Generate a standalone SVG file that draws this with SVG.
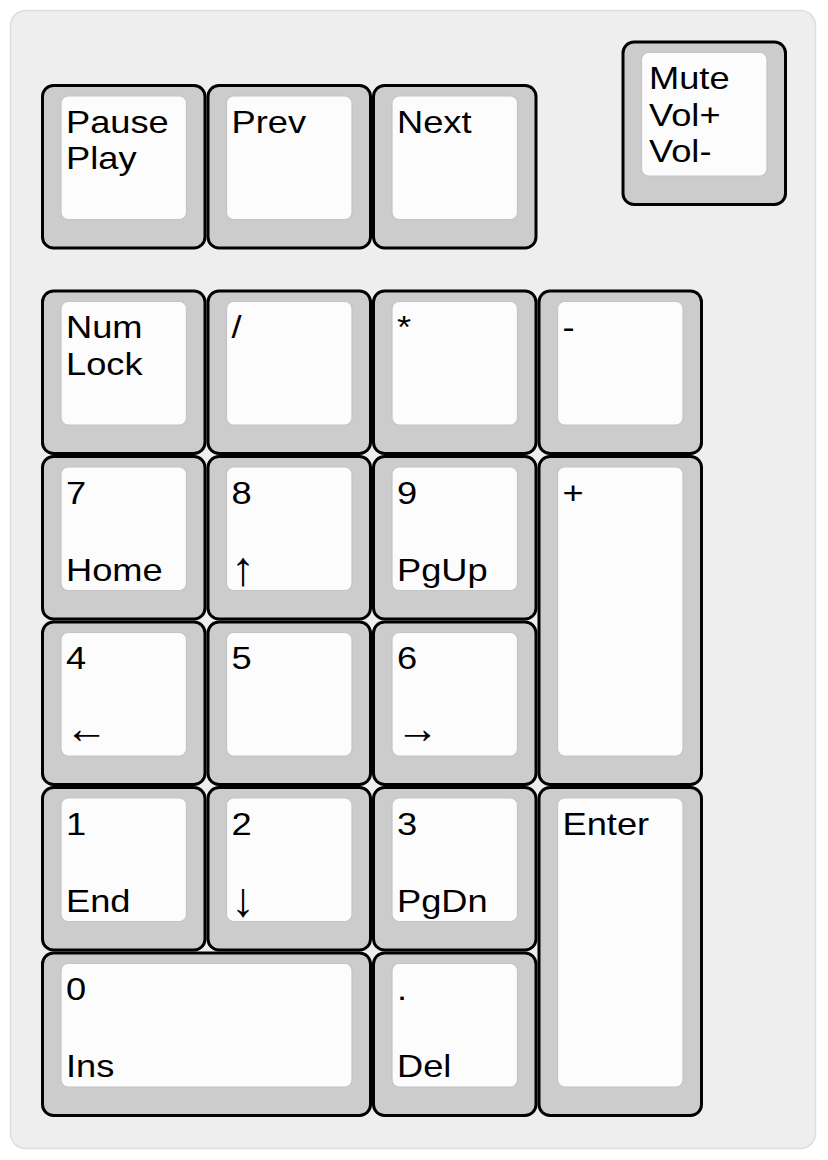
<svg xmlns="http://www.w3.org/2000/svg" width="828" height="1160" viewBox="0 0 828 1160">
<style>
.bg{fill:#eeeeee;stroke:#dedede;stroke-width:1.5}
.key{fill:#cccccc;stroke:#000000;stroke-width:3}
.top{fill:#fcfcfc;stroke:#c4c4c4;stroke-width:1.2}
.lbl{font-family:"Liberation Sans",Arial,sans-serif;font-size:31px;fill:#000000}
.av{font-family:"Liberation Sans",Arial,sans-serif;font-size:48px;fill:#000000}
.ah{font-family:"Liberation Sans",Arial,sans-serif;font-size:43px;fill:#000000}
</style>
<rect class="bg" x="10.5" y="10.5" width="805" height="1138" rx="15"/>

<g id="key-pause">
<rect class="key" x="42.5" y="85.5" width="162.5" height="162.5" rx="11"/>
<rect class="top" x="61" y="96" width="125.5" height="123.5" rx="7"/>
<text class="lbl" transform="translate(66 132.5) scale(1.17 1)">Pause</text>
<text class="lbl" transform="translate(66 169) scale(1.17 1)">Play</text>
</g>
<g id="key-prev">
<rect class="key" x="208" y="85.5" width="162.5" height="162.5" rx="11"/>
<rect class="top" x="226.5" y="96" width="125.5" height="123.5" rx="7"/>
<text class="lbl" transform="translate(231.5 132.5) scale(1.17 1)">Prev</text>
</g>
<g id="key-next">
<rect class="key" x="373.5" y="85.5" width="162.5" height="162.5" rx="11"/>
<rect class="top" x="392" y="96" width="125.5" height="123.5" rx="7"/>
<text class="lbl" transform="translate(397 132.5) scale(1.17 1)">Next</text>
</g>
<g id="key-mute">
<rect class="key" x="623" y="42" width="162.5" height="162.5" rx="11"/>
<rect class="top" x="641.5" y="52.5" width="125.5" height="123.5" rx="7"/>
<text class="lbl" transform="translate(649 89) scale(1.17 1)">Mute</text>
<text class="lbl" transform="translate(649 125.5) scale(1.17 1)">Vol+</text>
<text class="lbl" transform="translate(649 162) scale(1.17 1)">Vol-</text>
</g>

<g id="key-numlock">
<rect class="key" x="42.5" y="291" width="162.5" height="162.5" rx="11"/>
<rect class="top" x="61" y="301.5" width="125.5" height="123.5" rx="7"/>
<text class="lbl" transform="translate(66 338) scale(1.17 1)">Num</text>
<text class="lbl" transform="translate(66 374.5) scale(1.17 1)">Lock</text>
</g>
<g id="key-div">
<rect class="key" x="208" y="291" width="162.5" height="162.5" rx="11"/>
<rect class="top" x="226.5" y="301.5" width="125.5" height="123.5" rx="7"/>
<text class="lbl" transform="translate(231.5 338) scale(1.17 1)">/</text>
</g>
<g id="key-mul">
<rect class="key" x="373.5" y="291" width="162.5" height="162.5" rx="11"/>
<rect class="top" x="392" y="301.5" width="125.5" height="123.5" rx="7"/>
<text class="lbl" transform="translate(397 338) scale(1.17 1)">*</text>
</g>
<g id="key-minus">
<rect class="key" x="539" y="291" width="162.5" height="162.5" rx="11"/>
<rect class="top" x="557.5" y="301.5" width="125.5" height="123.5" rx="7"/>
<text class="lbl" transform="translate(562.5 338) scale(1.17 1)">-</text>
</g>

<g id="key-7">
<rect class="key" x="42.5" y="456.5" width="162.5" height="162.5" rx="11"/>
<rect class="top" x="61" y="467" width="125.5" height="123.5" rx="7"/>
<text class="lbl" transform="translate(66 503.5) scale(1.17 1)">7</text>
<text class="lbl" transform="translate(66 580.5) scale(1.17 1)">Home</text>
</g>
<g id="key-8">
<rect class="key" x="208" y="456.5" width="162.5" height="162.5" rx="11"/>
<rect class="top" x="226.5" y="467" width="125.5" height="123.5" rx="7"/>
<text class="lbl" transform="translate(231.5 503.5) scale(1.17 1)">8</text>
<text class="av" x="231" y="585">↑</text>
</g>
<g id="key-9">
<rect class="key" x="373.5" y="456.5" width="162.5" height="162.5" rx="11"/>
<rect class="top" x="392" y="467" width="125.5" height="123.5" rx="7"/>
<text class="lbl" transform="translate(397 503.5) scale(1.17 1)">9</text>
<text class="lbl" transform="translate(397 580.5) scale(1.17 1)">PgUp</text>
</g>
<g id="key-plus">
<rect class="key" x="539" y="456.5" width="162.5" height="328" rx="11"/>
<rect class="top" x="557.5" y="467" width="125.5" height="289" rx="7"/>
<text class="lbl" transform="translate(562.5 503.5) scale(1.17 1)">+</text>
</g>

<g id="key-4">
<rect class="key" x="42.5" y="622" width="162.5" height="162.5" rx="11"/>
<rect class="top" x="61" y="632.5" width="125.5" height="123.5" rx="7"/>
<text class="lbl" transform="translate(66 669) scale(1.17 1)">4</text>
<text class="ah" x="65" y="743">←</text>
</g>
<g id="key-5">
<rect class="key" x="208" y="622" width="162.5" height="162.5" rx="11"/>
<rect class="top" x="226.5" y="632.5" width="125.5" height="123.5" rx="7"/>
<text class="lbl" transform="translate(231.5 669) scale(1.17 1)">5</text>
</g>
<g id="key-6">
<rect class="key" x="373.5" y="622" width="162.5" height="162.5" rx="11"/>
<rect class="top" x="392" y="632.5" width="125.5" height="123.5" rx="7"/>
<text class="lbl" transform="translate(397 669) scale(1.17 1)">6</text>
<text class="ah" x="396" y="743">→</text>
</g>

<g id="key-1">
<rect class="key" x="42.5" y="787.5" width="162.5" height="162.5" rx="11"/>
<rect class="top" x="61" y="798" width="125.5" height="123.5" rx="7"/>
<text class="lbl" transform="translate(66 834.5) scale(1.17 1)">1</text>
<text class="lbl" transform="translate(66 911.5) scale(1.17 1)">End</text>
</g>
<g id="key-2">
<rect class="key" x="208" y="787.5" width="162.5" height="162.5" rx="11"/>
<rect class="top" x="226.5" y="798" width="125.5" height="123.5" rx="7"/>
<text class="lbl" transform="translate(231.5 834.5) scale(1.17 1)">2</text>
<text class="av" x="231" y="916">↓</text>
</g>
<g id="key-3">
<rect class="key" x="373.5" y="787.5" width="162.5" height="162.5" rx="11"/>
<rect class="top" x="392" y="798" width="125.5" height="123.5" rx="7"/>
<text class="lbl" transform="translate(397 834.5) scale(1.17 1)">3</text>
<text class="lbl" transform="translate(397 911.5) scale(1.17 1)">PgDn</text>
</g>
<g id="key-enter">
<rect class="key" x="539" y="787.5" width="162.5" height="328" rx="11"/>
<rect class="top" x="557.5" y="798" width="125.5" height="289" rx="7"/>
<text class="lbl" transform="translate(562.5 834.5) scale(1.17 1)">Enter</text>
</g>

<g id="key-0">
<rect class="key" x="42.5" y="953" width="328" height="162.5" rx="11"/>
<rect class="top" x="61" y="963.5" width="291" height="123.5" rx="7"/>
<text class="lbl" transform="translate(66 1000) scale(1.17 1)">0</text>
<text class="lbl" transform="translate(66 1077) scale(1.17 1)">Ins</text>
</g>
<g id="key-dot">
<rect class="key" x="373.5" y="953" width="162.5" height="162.5" rx="11"/>
<rect class="top" x="392" y="963.5" width="125.5" height="123.5" rx="7"/>
<text class="lbl" transform="translate(397 1000) scale(1.17 1)">.</text>
<text class="lbl" transform="translate(397 1077) scale(1.17 1)">Del</text>
</g>
</svg>
